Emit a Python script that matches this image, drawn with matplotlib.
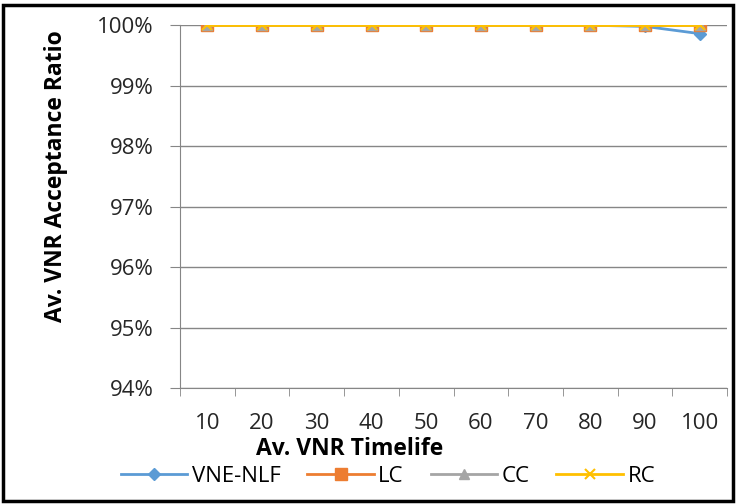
import matplotlib.pyplot as plt
from matplotlib.patches import Rectangle
import numpy as np

plt.rcParams['font.family'] = ['Open Sans', 'DejaVu Sans']

timelife = [10, 20, 30, 40, 50, 60, 70, 80, 90, 100]
vne_nlf = [100, 100, 100, 100, 100, 100, 100, 100, 99.98, 99.86]
lc = [100, 100, 100, 100, 100, 100, 100, 100, 100, 100]
cc = [100, 100, 100, 100, 100, 100, 100, 100, 100, 100]
rc = [100, 100, 100, 100, 100, 100, 100, 100, 100, 100]
yticks = [94, 95, 96, 97, 98, 99, 100]

fig = plt.figure(figsize=(7.36, 5.04), dpi=100)
ax = fig.add_axes([0.2446, 0.2302, 0.7434, 0.7198])

x = np.arange(len(timelife))
ax.plot(x, vne_nlf, color='#5B9BD5', marker='D', markersize=6, lw=2, label='VNE-NLF')
ax.plot(x, lc, color='#ED7D31', marker='s', markersize=9, lw=2, label='LC')
ax.plot(x, cc, color='#A5A5A5', marker='^', markersize=7, lw=2, label='CC')
ax.plot(x, rc, color='#FFC000', marker='x', markersize=7, mew=1.5, lw=2, label='RC')

ax.set_xlim(-0.5, len(timelife) - 0.5)
ax.set_ylim(94, 100)
ax.set_yticks(yticks)
ax.set_yticklabels(['%d%%' % v for v in yticks], fontsize=16, color='#262626')
ax.set_xticks(x)
ax.set_xticklabels([str(t) for t in timelife], fontsize=16, color='#262626')
ax.tick_params(axis='x', length=0, pad=18)
ax.tick_params(axis='y', length=7, direction='out', color='#868686', pad=12)
# category boundary tick marks
ax.set_xticks(np.arange(-0.5, len(timelife), 1), minor=True)
ax.tick_params(axis='x', which='minor', length=6, direction='out', color='#868686')

ax.grid(axis='y', color='#868686', lw=1)
ax.set_axisbelow(True)
for s in ['top', 'right']:
    ax.spines[s].set_visible(False)
for s in ['left', 'bottom']:
    ax.spines[s].set_color('#868686')

ax.set_xlabel('Av. VNR Timelife', fontsize=16.5, fontweight='bold', labelpad=0)
ax.xaxis.set_label_coords(0.31, -0.135)
ax.set_ylabel('Av. VNR Acceptance Ratio', fontsize=16.5, fontweight='bold')
ax.yaxis.set_label_coords(-0.205, 0.585)

fig.legend(loc='lower center', bbox_to_anchor=(0.527, -0.005), ncol=4, frameon=False,
           fontsize=16, handlelength=3, columnspacing=1.2, handletextpad=0.2)

fig.patches.append(Rectangle((0.004, 0.006), 0.992, 0.984, transform=fig.transFigure,
                             fill=False, ec='black', lw=2.5))

fig.savefig('out.png', dpi=100)
